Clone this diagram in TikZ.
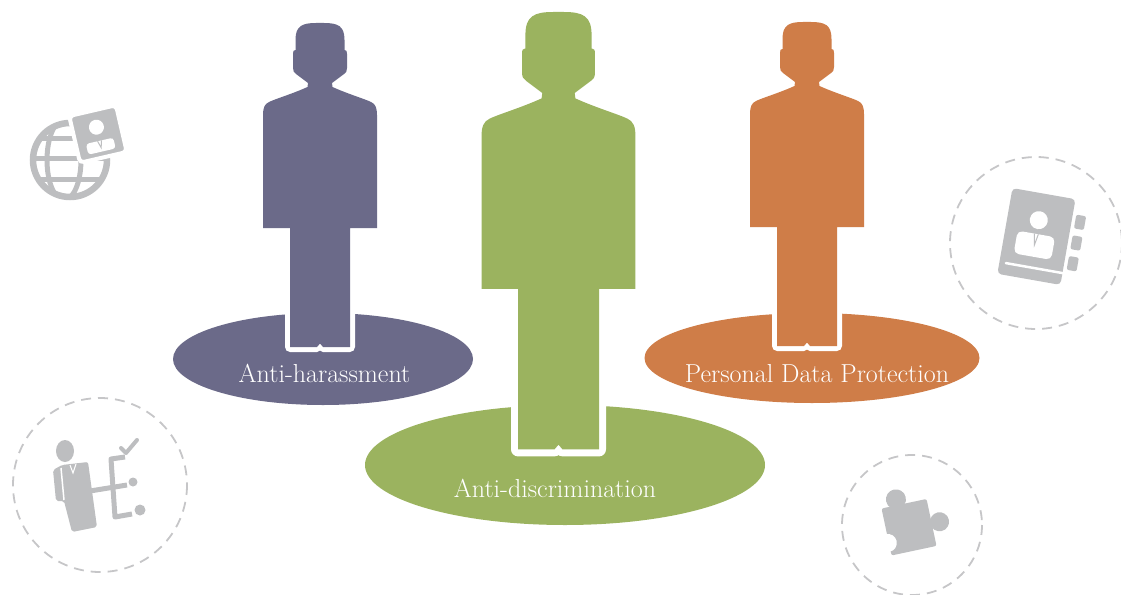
\documentclass[tikz,border=0pt]{standalone}
\usepackage{xcolor}
\usepackage{tikz}
\usetikzlibrary{shapes.geometric, positioning, calc}

\definecolor{harassviolet}{HTML}{6B6A89}
\definecolor{discrimgreen}{HTML}{9BB35F}
\definecolor{privacyorange}{HTML}{CF7D48}
\definecolor{icongray}{HTML}{BDBEC0}
\definecolor{ringgray}{HTML}{C6C6C8}

% standing figure, origin at the top of the head
\newcommand\silhouettepath{%
  (0,0) -- (4,0) .. controls (18,0) and (24.5,3) .. (24.5,17) -- (24.5,27)
  .. controls (26.5,27) and (27,28) .. (27,31) -- (27,45)
  .. controls (27,48) and (26,50) .. (24,51) -- (12,60) -- (12.5,64)
  .. controls (28,71) and (45,76) .. (51,79) .. controls (55.5,81) and (57,85) .. (57,92)
  -- (57,205) -- (30,205) -- (30,324) -- (3,324) -- (0,320.5) -- (-3,324)
  -- (-30,324) -- (-30,205) -- (-57,205) -- (-57,92)
  .. controls (-57,85) and (-55.5,81) .. (-51,79) .. controls (-45,76) and (-28,71) .. (-12.5,64)
  -- (-12,60) -- (-24,51) .. controls (-26,50) and (-27,48) .. (-27,45) -- (-27,31)
  .. controls (-27,28) and (-26.5,27) .. (-24.5,27) -- (-24.5,17)
  .. controls (-24.5,3) and (-18,0) .. (-4,0) -- cycle}

\begin{document}
\begin{tikzpicture}[x=1pt, y=-1pt,
    base/.style={ellipse, fill=#1, inner sep=0pt},
    caption/.style={text=white, font=\fontsize{26}{30}\selectfont, anchor=base, inner sep=0pt},
    ring/.style={draw=ringgray, line width=1.8pt, dash pattern=on 10pt off 7pt},
    icon/.style={fill=icongray},
    pics/person/.style 2 args={code={
      \filldraw[white, line width=#2, line join=round] \silhouettepath;
      \fill[#1] \silhouettepath;
    }}]
    \useasboundingbox (0,0) rectangle (1121,594);

    % the three bases
    \node[base=harassviolet, minimum width=300pt, minimum height=92pt] (harassbase) at (323,359) {};
    \node[base=discrimgreen, minimum width=400pt, minimum height=120pt] (discrimbase) at (565,465) {};
    \node[base=privacyorange, minimum width=335pt, minimum height=90pt] (privacybase) at (812,358) {};

    % figures standing on them
    \pic at (320,23) {person={harassviolet}{10pt}};
    \pic[scale=1.35] at (558.5,12) {person={discrimgreen}{14pt}};
    \pic at (807,22) {person={privacyorange}{10pt}};

    \node[caption] (harass) at (324.5,382) {Anti-harassment};
    \node[caption] (discrim) at (555,497) {Anti-discrimination};
    \node[caption] (privacy) at (817,382) {Personal Data Protection};

    % globe with id card
    \begin{scope}
      \draw[icongray, line width=6.5pt] (70,160) circle (37);
      \clip (70,160) circle (37);
      \draw[icongray, line width=5pt] (64,160) ellipse [x radius=17, y radius=40];
      \draw[icongray, line width=5pt] (30,138) -- (110,138) (30,158) -- (110,158) (30,179) -- (110,179);
    \end{scope}
    \begin{scope}[rotate around={13:(98,134)}]
      \filldraw[fill=icongray, draw=white, line width=4pt, rounded corners=4pt] (74,110) rectangle (122,158);
      \fill[white] (98,127) circle (7.5);
      \fill[white, rounded corners=3pt] (84,152) -- (84,141) -- (112,141) -- (112,152) -- cycle;
      \draw[icongray, line width=1pt] (96,141) -- (98,148) -- (100,141);
    \end{scope}

    % employee with checklist
    \draw[ring] (100,485) circle (87);
    \fill[icon] (65,451) ellipse [x radius=9, y radius=11];
    \fill[icon, rounded corners=2pt] (53,470) -- (56,501) -- (64,501) -- (72,532) -- (97,527) -- (88,462) -- (62,465) -- cycle;
    \draw[white, line width=1.5pt] (61,468) -- (64,500);
    \draw[white, line width=1pt] (70,465) -- (73,473) -- (76,464);
    \draw[icongray, line width=5pt] (90,491) -- (127,485);
    \draw[icongray, line width=5pt, line join=round] (125,457) -- (111,459) -- (115,517) -- (132,514);
    \draw[icongray, line width=4pt, line cap=round, line join=round] (121,448) -- (126,453) -- (137,440);
    \fill[icon] (133,482) circle (4.5);
    \fill[icon] (140,510) circle (5.5);

    % contact book
    \draw[ring] (1036,243) circle (86);
    \begin{scope}[rotate around={-10:(1036.5,236)}]
      \fill[icon, rounded corners=4pt] (1004.5,193) rectangle (1068.5,280);
      \draw[white, line width=2.5pt, line cap=round] (1011,268) -- (1069,268);
      \fill[icon, rounded corners=2pt] (1072,208) rectangle (1082,222);
      \fill[icon, rounded corners=2pt] (1072,229) rectangle (1082,243);
      \fill[icon, rounded corners=2pt] (1072,250) rectangle (1082,264);
      \fill[white] (1036,220) circle (9);
      \fill[white, rounded corners=5pt] (1017,257) -- (1017,234) -- (1055,234) -- (1055,257) -- cycle;
      \draw[icongray, line width=1pt] (1034,234) -- (1036,245) -- (1038,234);
    \end{scope}

    % puzzle piece
    \draw[ring] (912,525) circle (70);
    \begin{scope}[rotate around={12:(910,527)}]
      \fill[icon, rounded corners=2pt] (886,503) rectangle (932,551);
      \fill[icon] (902,497) circle (10);
      \fill[icon] (940,528) circle (9.5);
      \fill[white] (885,538) circle (9);
    \end{scope}
\end{tikzpicture}
\end{document}
